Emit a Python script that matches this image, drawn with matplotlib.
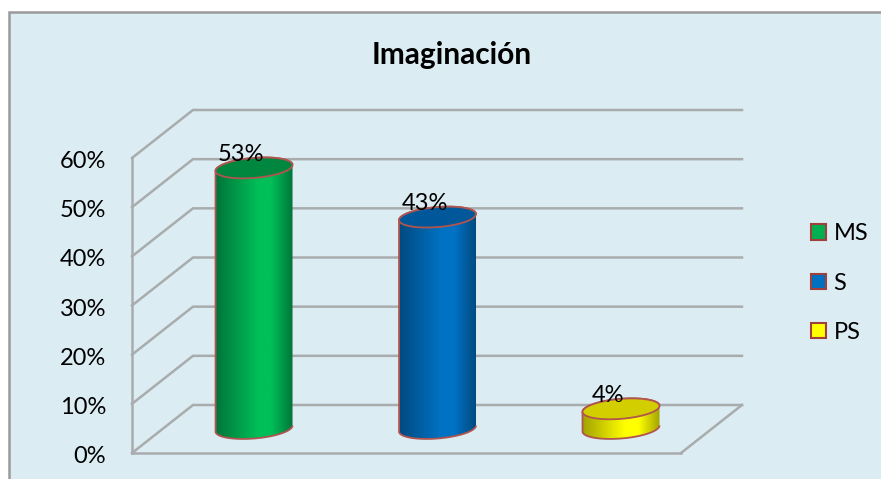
import numpy as np
import matplotlib
matplotlib.use("Agg")
import matplotlib.pyplot as plt
from matplotlib.colors import LinearSegmentedColormap
from matplotlib.patches import Patch, PathPatch, Rectangle
from matplotlib.path import Path
from matplotlib.transforms import ScaledTranslation

categories = ["MS", "S", "PS"]
values = [53, 43, 4]
labels = ["53%", "43%", "4%"]
yticks = [0, 10, 20, 30, 40, 50, 60]
ytick_labels = ["0%", "10%", "20%", "30%", "40%", "50%", "60%"]
title = "Imaginación"

side_colors = [("#00753A", "#00BF58"), ("#004A80", "#0072C4"), ("#A3A300", "#FFFF00")]
top_colors = ["#00873F", "#00589B", "#D2CE00"]
legend_colors = ["#00B050", "#0070C0", "#FFFF00"]
edge = "#B0544E"
grid = "#A9ACAD"
panel = "#DBECF3"
fs = 17

plt.rcParams["font.family"] = ["Lato", "DejaVu Sans"]
W, H = 881, 479
fig = plt.figure(figsize=(W / 100, H / 100), dpi=100, facecolor="white")

# frame of the chart, runs off the bottom and right of the picture
fig.add_artist(Rectangle((9 / W, -0.02), 1, 1.02 - 11.5 / H, transform=fig.transFigure,
                         facecolor=panel, edgecolor="#9A9A9A", linewidth=1.8, zorder=-1))

ax = fig.add_axes([132 / W, (H - 453) / H, (681 - 132) / W, 295 / H])
ax.set_facecolor("none")
ax.set_xlim(-0.665, 2.327)
ax.set_ylim(0, 60)
ax.set_xticks([])
ax.set_yticks(yticks, ytick_labels, fontsize=fs, color="black")
ax.tick_params(axis="y", length=0, pad=26 * 0.72)
for s in ("top", "right"):
    ax.spines[s].set_visible(False)
for s in ("left", "bottom"):
    ax.spines[s].set_color(grid)
    ax.spines[s].set_linewidth(1.8)

# depth of the 3-D box in data units
dx = 61 / 183.5
dy = 48 / 295 * 60
x0, x1 = ax.get_xlim()
for v in yticks:
    ax.plot([x0, x0 + dx, x1 + dx], [v, v + dy, v + dy], color=grid, lw=1.8,
            clip_on=False, zorder=1, solid_joinstyle="miter")
ax.plot([x1, x1 + dx], [0, dy], color=grid, lw=1.8, clip_on=False, zorder=1)

# cylinders: the end caps lean a little, rising to the right
bw = 77 / 183.5
eh = 20 / 295 * 60
base = 24.5 / 295 * 60
lean = 3 / 295 * 60
t = np.linspace(0, 2 * np.pi, 121)
cx, cy = np.cos(t), np.sin(t)
half = t <= np.pi
for i, v in enumerate(values):
    top = base + v
    ring_x = i + bw / 2 * cx
    ring_y = eh / 2 * cy + lean * cx
    # body outline: upper half of the top cap, then lower half of the base
    xs = np.r_[ring_x[half], ring_x[~half]]
    ys = np.r_[top + ring_y[half], base + ring_y[~half]]
    body = Path(np.c_[xs, ys], closed=False)
    ax.add_patch(PathPatch(body, facecolor="none", edgecolor=edge, lw=1.3, clip_on=False, zorder=4))
    dark, light = side_colors[i]
    cmap = LinearSegmentedColormap.from_list("c", [(0, dark), (0.55, light), (0.72, light), (1, dark)])
    im = ax.imshow(np.linspace(0, 1, 256)[None, :], cmap=cmap, aspect="auto", zorder=3,
                   extent=(i - bw / 2, i + bw / 2, base - eh, top + eh))
    im.set_clip_path(PathPatch(body, transform=ax.transData))
    ax.fill(ring_x, top + ring_y, facecolor=top_colors[i], edgecolor=edge, lw=1.3,
            clip_on=False, zorder=5)
    ax.text(i - 0.07, top + eh / 2 - 0.6, labels[i], ha="center", va="baseline", fontsize=fs,
            color="black", zorder=6, clip_on=False)

ax.set_xlim(x0, x1)
ax.set_ylim(0, 60)

# tick labels sit a touch below their gridlines in the reference
nudge = ScaledTranslation(0, -1.5 / 100, fig.dpi_scale_trans)
for tick in ax.yaxis.get_major_ticks():
    tick.label1.set_transform(tick.label1.get_transform() + nudge)

fig.text(452 / W, 1 - 55 / H, title, ha="center", va="center", fontsize=21.5, fontweight="bold")

handles = [Patch(facecolor=c, edgecolor="#A0403A", linewidth=1.5) for c in legend_colors]
fig.legend(handles, categories, loc="center left", bbox_to_anchor=(811 / W, 1 - 283 / H),
           frameon=False, fontsize=fs, handlelength=0.62, handleheight=0.62,
           handletextpad=0.33, labelspacing=1.2, borderpad=0, borderaxespad=0)

fig.savefig("out.png", dpi=100, facecolor="white")
